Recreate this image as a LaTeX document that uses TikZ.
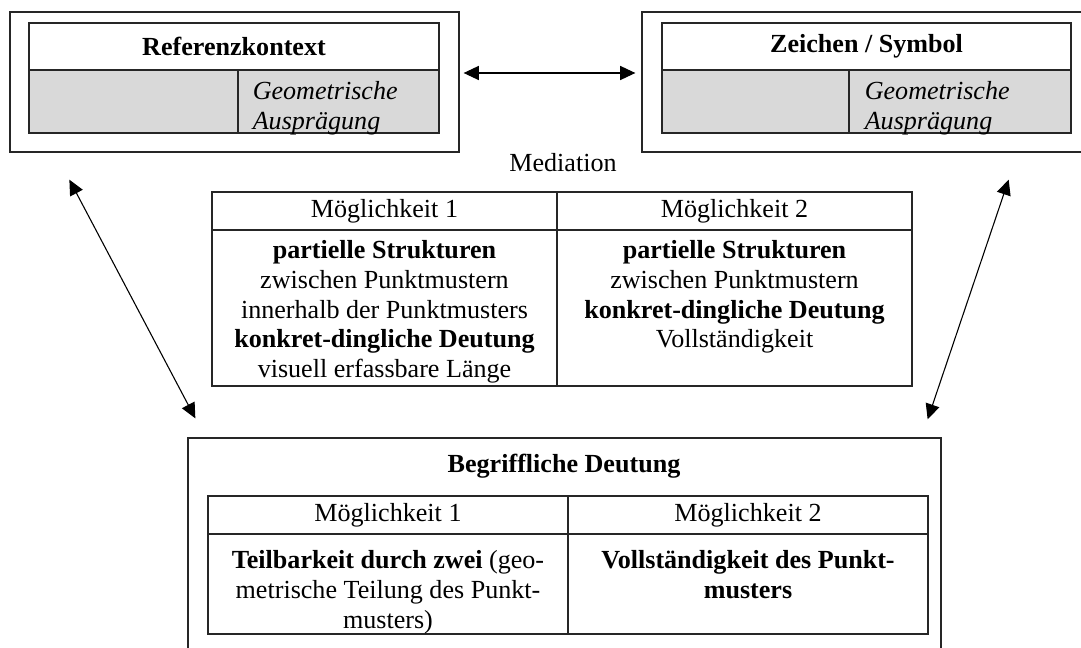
\documentclass[tikz,border=0pt]{standalone}
\usepackage{fontspec}
\setmainfont{Liberation Serif}
\usetikzlibrary{arrows.meta,fit,calc}
\definecolor{cellgray}{HTML}{D9D9D9}

\begin{document}
\begin{tikzpicture}[
    x=0.46pt, y=-0.46pt,
    outer/.style={draw=black!85, line width=0.6pt, inner sep=0pt},
    cell/.style={draw=black!85, line width=0.6pt, inner sep=0pt},
    graycell/.style={cell, fill=cellgray},
    txt/.style={inner sep=0pt, align=center, anchor=north, font=\fontsize{12}{13.6}\selectfont},
    head/.style={txt, anchor=center},
    link/.style={{Triangle[length=7pt,width=6.5pt]}-{Triangle[length=7pt,width=6.5pt]}, line width=0.5pt},
    ]
  \useasboundingbox (0,0) rectangle (1081,648);

  \node[outer, fit={(10,12) (459,152)}] (ref) {};
  \node[cell, fit={(29,23) (439,70)}] (refhead) {};
  \node[graycell, fit={(29,70) (238,133)}] (refleft) {};
  \node[graycell, fit={(238,70) (439,133)}] (refright) {};
  \node[head] at (refhead.center) {\textbf{Referenzkontext}};
  \node[txt, anchor=north west, align=left] at ($(refright.north west)+(15,12)$) {\textit{Geometrische}\\\textit{Ausprägung}};

  \node[outer, fit={(642,12) (1091,152)}] (sym) {};
  \node[cell, fit={(662,23) (1071,70)}] (symhead) {};
  \node[graycell, fit={(662,70) (849,133)}] (symleft) {};
  \node[graycell, fit={(849,70) (1071,133)}] (symright) {};
  \node[head] at (symhead.center) {\textbf{Zeichen / Symbol}};
  \node[txt, anchor=north west, align=left] at ($(symright.north west)+(16,12)$) {\textit{Geometrische}\\\textit{Ausprägung}};

  \node[head] (med) at (563,163) {Mediation};
  \node[cell, fit={(212,192) (557,230)}] (m1head) {};
  \node[cell, fit={(557,192) (912,230)}] (m2head) {};
  \node[cell, fit={(212,230) (557,386)}] (m1body) {};
  \node[cell, fit={(557,230) (912,386)}] (m2body) {};
  \node[head] at (m1head.center) {Möglichkeit 1};
  \node[head] at (m2head.center) {Möglichkeit 2};
  \node[txt] at ($(m1body.north)+(0,11)$) {\textbf{partielle Strukturen}\\zwischen Punktmustern\\innerhalb der Punktmusters\\\textbf{konkret-dingliche Deutung}\\visuell erfassbare Länge};
  \node[txt] at ($(m2body.north)+(0,11)$) {\textbf{partielle Strukturen}\\zwischen Punktmustern\\\textbf{konkret-dingliche Deutung}\\Vollständigkeit};

  \node[outer, fit={(188,438) (941,665)}] (con) {};
  \node[head, font=\fontsize{12}{13.6}\selectfont\bfseries] (contitle) at (564,466) {Begriffliche Deutung};
  \node[cell, fit={(208,496) (568,534)}] (c1head) {};
  \node[cell, fit={(568,496) (928,534)}] (c2head) {};
  \node[cell, fit={(208,534) (568,634)}] (c1body) {};
  \node[cell, fit={(568,534) (928,634)}] (c2body) {};
  \node[head] at (c1head.center) {Möglichkeit 1};
  \node[head] at (c2head.center) {Möglichkeit 2};
  \node[txt] at ($(c1body.north)+(0,17)$) {\textbf{Teilbarkeit durch zwei} (geo-\\metrische Teilung des Punkt-\\musters)};
  \node[txt] at ($(c2body.north)+(0,17)$) {\textbf{Vollständigkeit des Punkt-}\\\textbf{musters}};

  \draw[link] ($(ref.east)+(4,-9)$) -- ($(sym.west)+(-6,-9)$);
  \draw[link] ($(ref.south west)+(60,27)$) -- ($(con.north west)+(8,-19)$);
  \draw[link] ($(sym.south east)+(-83,27)$) -- ($(con.north east)+(-14,-18)$);
\end{tikzpicture}
\end{document}
